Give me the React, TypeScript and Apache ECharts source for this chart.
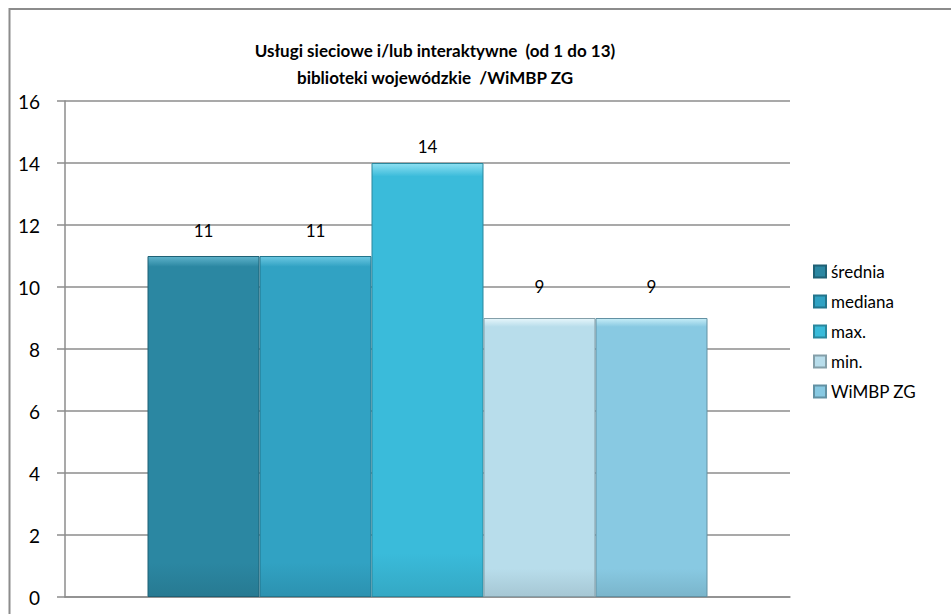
import React, { useEffect, useRef } from "react";
import * as echarts from "echarts";

const titleLines = ["Usługi sieciowe i/lub interaktywne  (od 1 do 13)", "biblioteki wojewódzkie  /WiMBP ZG"];
const categories = [""];
const seriesNames = ["średnia", "mediana", "max.", "min.", "WiMBP ZG"];
const seriesValues = [11, 11, 14, 9, 9];
const seriesColors = ["#2B87A2", "#31A2C3", "#3ABBDA", "#B8DDEB", "#88C9E2"];
const seriesLight = ["#5FB3CB", "#6CC8E2", "#8EE0F2", "#E6F6FB", "#C6EDF7"];
const labelDistances = [17, 17, 8, 23, 23];
const yTicks = { min: 0, max: 16, interval: 2 };

const FONT = "Lato, 'Open Sans', sans-serif";

function shade(hex: string, f: number) {
  const n = parseInt(hex.slice(1), 16);
  const r = Math.round(((n >> 16) & 255) * f);
  const g = Math.round(((n >> 8) & 255) * f);
  const b = Math.round((n & 255) * f);
  return "rgb(" + r + "," + g + "," + b + ")";
}

export default function App() {
  const ref = useRef<HTMLDivElement>(null);
  useEffect(() => {
    if (!ref.current) return;
    const chart = echarts.init(ref.current, undefined, { renderer: "svg" });
    const series = seriesNames.map((name, i) => ({
      name,
      type: "bar",
      barWidth: 112,
      barGap: "0%",
      data: [seriesValues[i]],
      itemStyle: {
        color: new echarts.graphic.LinearGradient(0, 0, 0, 1, [
          { offset: 0, color: seriesLight[i] },
          { offset: 0.03, color: seriesColors[i] },
          { offset: 0.9, color: seriesColors[i] },
          { offset: 1, color: shade(seriesColors[i], 0.9) },
        ]),
        borderColor: shade(seriesColors[i], 0.72),
        borderWidth: 1,
      },
      label: {
        show: true,
        position: "top",
        distance: labelDistances[i],
        color: "#000",
        fontSize: 17,
        fontFamily: FONT,
      },
    }));
    chart.setOption({
      animation: false,
      backgroundColor: "#fff",
      title: {
        text: titleLines.join("\n"),
        left: 430,
        textAlign: "center",
        top: 32,
        textStyle: {
          fontFamily: FONT,
          fontSize: 17,
          fontWeight: "bold",
          color: "#000",
          lineHeight: 27,
        },
      },
      legend: {
        orient: "vertical",
        left: 808,
        top: 258,
        itemWidth: 12,
        itemHeight: 12,
        itemGap: 13,
        icon: "rect",
        textStyle: { fontFamily: FONT, fontSize: 17, color: "#000", padding: [0, 0, 0, 0] },
        data: seriesNames,
      },
      grid: { left: 65, right: 161, top: 101, bottom: 17 },
      xAxis: {
        type: "category",
        data: categories,
        axisLine: { show: true, lineStyle: { color: "#8c8c8c", width: 1.5 } },
        axisTick: { show: false },
        axisLabel: { show: false },
      },
      yAxis: {
        type: "value",
        min: yTicks.min,
        max: yTicks.max,
        interval: yTicks.interval,
        axisLine: { show: true, lineStyle: { color: "#8c8c8c", width: 1.5 } },
        axisTick: { show: true, length: 8, lineStyle: { color: "#8c8c8c", width: 1.5 } },
        splitLine: { show: true, lineStyle: { color: "#8c8c8c", width: 1.5 } },
        axisLabel: { fontFamily: FONT, fontSize: 19, color: "#000", margin: 25 },
      },
      graphic: [
        {
          type: "polyline",
          shape: { points: [[9.5, 620], [9.5, 9], [951, 9]] },
          style: { stroke: "#8c8c8c", lineWidth: 2, fill: "none" },
          silent: true,
        },
      ],
      series,
    });
    return () => chart.dispose();
  }, []);
  return (
    <div
      ref={ref}
      style={{ position: "fixed", left: 0, top: 0, width: 951, height: 614 }}
    />
  );
}
